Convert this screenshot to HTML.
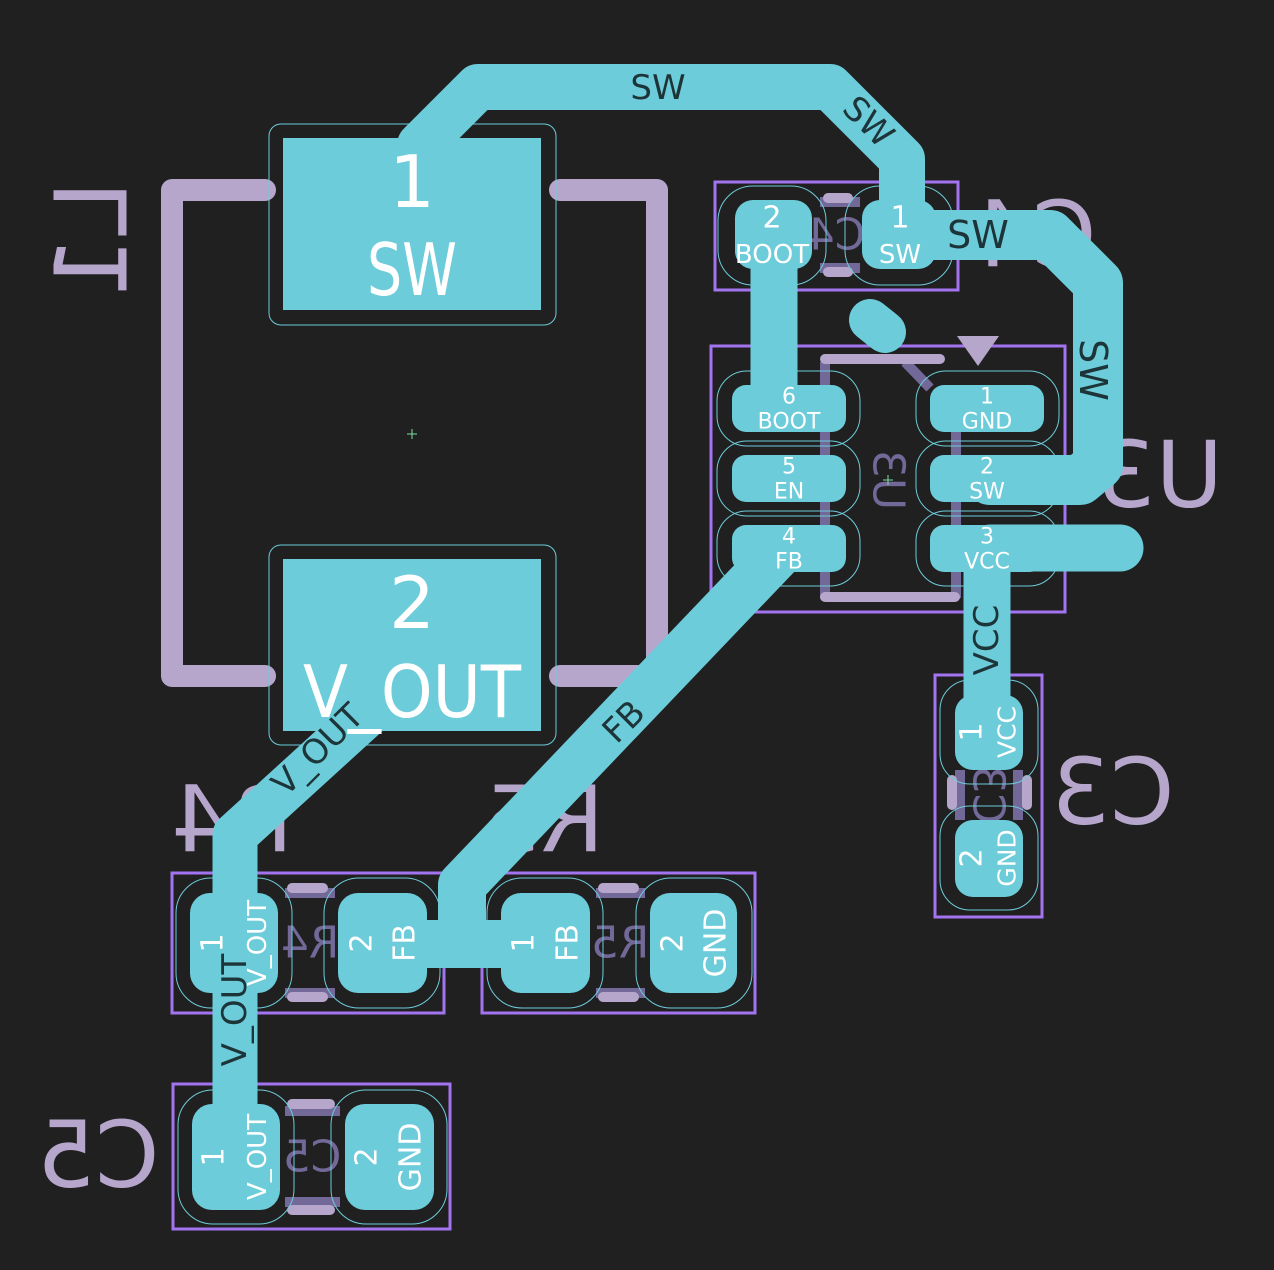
<!DOCTYPE html>
<html><head><meta charset="utf-8"><style>
html,body{margin:0;padding:0;background:#202020}
svg{display:block}
text{font-family:"DejaVu Sans","Liberation Sans",sans-serif}
</style></head><body>
<svg width="1274" height="1270" viewBox="0 0 1274 1270" xmlns="http://www.w3.org/2000/svg">
<rect width="1274" height="1270" fill="#202020"/>

<g fill="#b6a6cc" font-size="100">
  <text transform="translate(92,240) scale(-1,1) rotate(90)" text-anchor="middle" dominant-baseline="central">L1</text>
  <text transform="translate(232,820) scale(-1,1)" text-anchor="middle" dominant-baseline="central" font-size="92">R4</text>
  <text transform="translate(543,820) scale(-1,1)" text-anchor="middle" dominant-baseline="central" font-size="92">R5</text>
  <text transform="translate(98,1155) scale(-1,1)" text-anchor="middle" dominant-baseline="central" font-size="92">C5</text>
  <text transform="translate(1113,792) scale(-1,1)" text-anchor="middle" dominant-baseline="central" font-size="92">C3</text>
  <text transform="translate(1160,475) scale(-1,1)" text-anchor="middle" dominant-baseline="central" font-size="92">U3</text>
  <text transform="translate(1035,235) scale(-1,1)" text-anchor="middle" dominant-baseline="central" font-size="92">C4</text>
</g>
<g stroke="#b6a6cc" stroke-width="22" fill="none" stroke-linecap="round" stroke-linejoin="round">
  <polyline points="265,190 172,190 172,676 265,676"/>
  <polyline points="560,190 657,190 657,660"/>
  <line x1="560" y1="676" x2="645" y2="676"/>
</g>

<g stroke="#a374f0" stroke-width="3" fill="none">
  <rect x="715" y="182" width="243" height="108"/>
  <rect x="711" y="346" width="354" height="266"/>
  <rect x="935" y="675" width="107" height="242"/>
  <rect x="172" y="873" width="272" height="140"/>
  <rect x="482" y="873" width="273" height="140"/>
  <rect x="173" y="1084" width="277" height="145"/>
</g>

<g stroke="#736999" stroke-width="10" fill="none">
  <line x1="825" y1="362" x2="825" y2="598"/>
  <line x1="956" y1="385" x2="956" y2="598"/>
  <line x1="905" y1="362" x2="930" y2="388"/>
  <line x1="820" y1="202" x2="860" y2="202"/>
  <line x1="820" y1="268" x2="860" y2="268"/>
  <line x1="285" y1="893" x2="335" y2="893"/>
  <line x1="285" y1="993" x2="335" y2="993"/>
  <line x1="596" y1="893" x2="645" y2="893"/>
  <line x1="596" y1="993" x2="645" y2="993"/>
  <line x1="285" y1="1111" x2="340" y2="1111"/>
  <line x1="285" y1="1202" x2="340" y2="1202"/>
  <line x1="960" y1="770" x2="960" y2="820"/>
  <line x1="1018" y1="770" x2="1018" y2="820"/>
</g>
<g fill="#736999" font-size="44">
  <text transform="translate(888,480) rotate(90) scale(-1,1)" text-anchor="middle" dominant-baseline="central">U3</text>
  <text transform="translate(836,235) scale(-1,1)" text-anchor="middle" dominant-baseline="central">C4</text>
  <text transform="translate(310,943) scale(-1,1)" text-anchor="middle" dominant-baseline="central">R4</text>
  <text transform="translate(620,943) scale(-1,1)" text-anchor="middle" dominant-baseline="central">R5</text>
  <text transform="translate(312,1157) scale(-1,1)" text-anchor="middle" dominant-baseline="central">C5</text>
  <text transform="translate(988,795) rotate(90) scale(-1,1)" text-anchor="middle" dominant-baseline="central">C3</text>
</g>
<g stroke="#b6a6cc" stroke-width="10" stroke-linecap="round">
  <line x1="825" y1="359" x2="940" y2="359"/>
  <line x1="825" y1="597" x2="955" y2="597"/>
  <line x1="828" y1="198" x2="848" y2="198"/>
  <line x1="828" y1="272" x2="848" y2="272"/>
  <line x1="292" y1="888" x2="323" y2="888"/>
  <line x1="292" y1="997" x2="323" y2="997"/>
  <line x1="603" y1="888" x2="634" y2="888"/>
  <line x1="603" y1="997" x2="634" y2="997"/>
  <line x1="292" y1="1104" x2="330" y2="1104"/>
  <line x1="292" y1="1210" x2="330" y2="1210"/>
  <line x1="952" y1="780" x2="952" y2="805"/>
  <line x1="1027" y1="780" x2="1027" y2="805"/>
</g>
<polygon points="957,336 999,336 978,366" fill="#b6a6cc"/>

<g stroke="#6dccda" stroke-width="1" fill="none">
  <rect x="269" y="124" width="287" height="201" rx="12"/>
  <rect x="269" y="545" width="287" height="200" rx="12"/>
  <rect x="718" y="186" width="108" height="99" rx="35"/>
  <rect x="845" y="186" width="108" height="99" rx="35"/>
  <rect x="717" y="371" width="143" height="75" rx="30"/>
  <rect x="717" y="441" width="143" height="75" rx="30"/>
  <rect x="717" y="511" width="143" height="75" rx="30"/>
  <rect x="916" y="371" width="143" height="75" rx="30"/>
  <rect x="916" y="441" width="143" height="75" rx="30"/>
  <rect x="916" y="511" width="143" height="75" rx="30"/>
  <rect x="940" y="680" width="98" height="104" rx="30"/>
  <rect x="940" y="806" width="98" height="104" rx="30"/>
  <rect x="176" y="878" width="116" height="130" rx="35"/>
  <rect x="324" y="878" width="116" height="130" rx="35"/>
  <rect x="487" y="878" width="116" height="130" rx="35"/>
  <rect x="636" y="878" width="116" height="130" rx="35"/>
  <rect x="178" y="1090" width="116" height="134" rx="35"/>
  <rect x="331" y="1090" width="116" height="134" rx="35"/>
</g>

<g stroke="#6dccda" fill="none" stroke-linecap="round" stroke-linejoin="round">
  <polyline stroke-width="46" points="420,145 478,87 830,87 902,159 902,230"/>
  <polyline stroke-width="50" points="900,235 1050,235 1098,283 1098,465 1080,480 990,480"/>
  <line stroke-width="47" x1="774" y1="230" x2="774" y2="400"/>
  <polyline stroke-width="47" points="1120,548 990,548"/>
  <line stroke-width="47" x1="987" y1="560" x2="987" y2="720"/>
  <polyline stroke-width="48" points="780,552 462,885 462,944"/>
  <line stroke-width="48" x1="420" y1="944" x2="520" y2="944" stroke-linecap="butt"/>
  <polyline stroke-width="45" points="370,712 235,835 235,1140"/>
  <line stroke-width="42" x1="870" y1="320" x2="885" y2="332"/>
</g>

<g fill="#6dccda">
  <rect x="283" y="138" width="258" height="172"/>
  <rect x="283" y="559" width="258" height="172"/>
  <rect x="735" y="200" width="77" height="69" rx="18"/>
  <rect x="862" y="200" width="74" height="69" rx="18"/>
  <rect x="732" y="385" width="114" height="47" rx="14"/>
  <rect x="732" y="455" width="114" height="47" rx="14"/>
  <rect x="732" y="525" width="114" height="47" rx="14"/>
  <rect x="930" y="385" width="114" height="47" rx="14"/>
  <rect x="930" y="455" width="114" height="47" rx="14"/>
  <rect x="930" y="525" width="114" height="47" rx="14"/>
  <rect x="955" y="695" width="68" height="75" rx="18"/>
  <rect x="955" y="820" width="68" height="77" rx="18"/>
  <rect x="190" y="893" width="88" height="100" rx="20"/>
  <rect x="338" y="893" width="89" height="100" rx="20"/>
  <rect x="501" y="893" width="89" height="100" rx="20"/>
  <rect x="650" y="893" width="87" height="100" rx="20"/>
  <rect x="192" y="1104" width="88" height="106" rx="20"/>
  <rect x="345" y="1104" width="89" height="106" rx="20"/>
</g>

<g fill="#ffffff" text-anchor="middle" dominant-baseline="central">
  <text x="412" y="182" font-size="72">1</text>
  <text x="412" y="270" font-size="72" textLength="90" lengthAdjust="spacingAndGlyphs">SW</text>
  <text x="412" y="603" font-size="72">2</text>
  <text x="412" y="692" font-size="72" textLength="218" lengthAdjust="spacingAndGlyphs">V_OUT</text>
  <text x="772" y="218" font-size="30">2</text>
  <text x="772" y="255" font-size="26">BOOT</text>
  <text x="900" y="218" font-size="30">1</text>
  <text x="900" y="255" font-size="26">SW</text>
  <text x="789" y="397" font-size="22">6</text>
  <text x="789" y="422" font-size="22">BOOT</text>
  <text x="789" y="467" font-size="22">5</text>
  <text x="789" y="492" font-size="22">EN</text>
  <text x="789" y="537" font-size="22">4</text>
  <text x="789" y="562" font-size="22">FB</text>
  <text x="987" y="397" font-size="22">1</text>
  <text x="987" y="422" font-size="22">GND</text>
  <text x="987" y="467" font-size="22">2</text>
  <text x="987" y="492" font-size="22">SW</text>
  <text x="987" y="537" font-size="22">3</text>
  <text x="987" y="562" font-size="22">VCC</text>
  <g font-size="30">
  <text transform="translate(972,732) rotate(-90)">1</text>
  <text transform="translate(1007,732) rotate(-90)" font-size="25">VCC</text>
  <text transform="translate(972,858) rotate(-90)">2</text>
  <text transform="translate(1007,858) rotate(-90)" font-size="25">GND</text>
  <text transform="translate(213,943) rotate(-90)">1</text>
  <text transform="translate(258,943) rotate(-90)" font-size="26">V_OUT</text>
  <text transform="translate(362,943) rotate(-90)">2</text>
  <text transform="translate(405,943) rotate(-90)">FB</text>
  <text transform="translate(524,943) rotate(-90)">1</text>
  <text transform="translate(568,943) rotate(-90)">FB</text>
  <text transform="translate(673,943) rotate(-90)">2</text>
  <text transform="translate(716,943) rotate(-90)">GND</text>
  <text transform="translate(214,1157) rotate(-90)">1</text>
  <text transform="translate(258,1157) rotate(-90)" font-size="26">V_OUT</text>
  <text transform="translate(367,1157) rotate(-90)">2</text>
  <text transform="translate(411,1157) rotate(-90)">GND</text>
  </g>
</g>

<g fill="#1d3438" text-anchor="middle" dominant-baseline="central" font-size="34">
  <text x="658" y="88">SW</text>
  <text transform="translate(868,122) rotate(45)">SW</text>
  <text x="978" y="235" font-size="38">SW</text>
  <text transform="translate(1093,370) rotate(90)" font-size="38">SW</text>
  <text transform="translate(624,722) rotate(-45)">FB</text>
  <text transform="translate(318,750) rotate(-45)">V_OUT</text>
  <text transform="translate(235,1010) rotate(-90)">V_OUT</text>
  <text transform="translate(987,640) rotate(-90)">VCC</text>
</g>

<g stroke="#7de0a0" stroke-width="1">
  <line x1="407" y1="434" x2="417" y2="434"/><line x1="412" y1="429" x2="412" y2="439"/>
  <line x1="883" y1="480" x2="893" y2="480"/><line x1="888" y1="475" x2="888" y2="485"/>
</g>
</svg>
</body></html>
